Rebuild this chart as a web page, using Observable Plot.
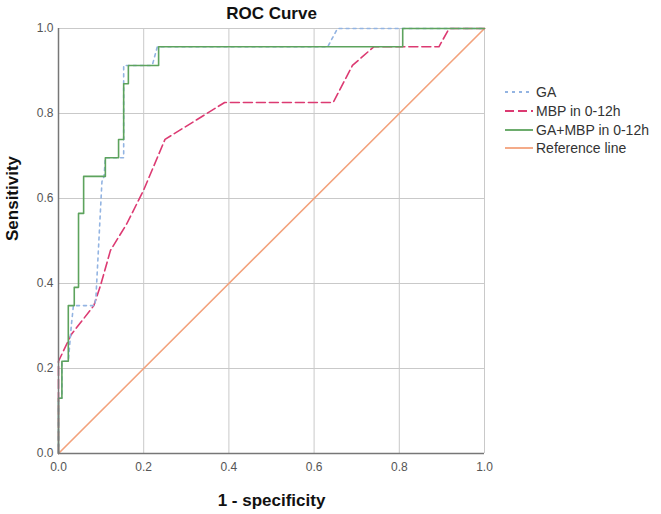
<!DOCTYPE html>
<html>
<head>
<meta charset="utf-8">
<script src="https://cdn.jsdelivr.net/npm/d3@7"></script>
<script src="https://cdn.jsdelivr.net/npm/@observablehq/plot@0.6"></script>
<style>
  html, body { margin: 0; padding: 0; background: #fff; }
  #chart { position: relative; width: 661px; height: 514px; }
</style>
</head>
<body>
<div id="chart"></div>
<script>
// ---- data ----
const ticks = [0, 0.2, 0.4, 0.6, 0.8, 1.0];

const gaX = [0, 0, 0.008, 0.008, 0.023, 0.030, 0.035, 0.085, 0.088, 0.102, 0.107, 0.110, 0.153, 0.153, 0.220, 0.232, 0.632, 0.655, 1];
const gaY = [0, 0.130, 0.130, 0.217, 0.217, 0.300, 0.348, 0.348, 0.370, 0.640, 0.652, 0.696, 0.696, 0.913, 0.913, 0.957, 0.957, 1, 1];

const mbpX = [0, 0, 0.030, 0.083, 0.100, 0.122, 0.160, 0.200, 0.250, 0.390, 0.645, 0.690, 0.740, 0.893, 0.917, 1];
const mbpY = [0, 0.217, 0.280, 0.348, 0.400, 0.478, 0.540, 0.620, 0.739, 0.826, 0.826, 0.913, 0.957, 0.957, 1, 1];

const comboX = [0, 0, 0.008, 0.008, 0.023, 0.023, 0.037, 0.037, 0.047, 0.047, 0.059, 0.059, 0.110, 0.110, 0.141, 0.141, 0.153, 0.153, 0.164, 0.164, 0.235, 0.235, 0.808, 0.808, 1];
const comboY = [0, 0.130, 0.130, 0.217, 0.217, 0.348, 0.348, 0.391, 0.391, 0.565, 0.565, 0.652, 0.652, 0.696, 0.696, 0.739, 0.739, 0.870, 0.870, 0.913, 0.913, 0.957, 0.957, 1, 1];

const refX = [0, 1];
const refY = [0, 1];

const seriesNames = ["GA", "MBP in 0-12h", "GA+MBP in 0-12h", "Reference line"];
const seriesColors = ["#93b4e2", "#dc3a72", "#5da35d", "#f3a27c"];
const seriesDash = ["3,4", "9,4", null, null];

// ---- build tables ----
const toRows = (xs, ys) => xs.map((x, i) => ({x, y: ys[i]}));
const ga = toRows(gaX, gaY);
const mbp = toRows(mbpX, mbpY);
const combo = toRows(comboX, comboY);
const ref = toRows(refX, refY);

const fmt = d3.format(".1f");
const font = "'Liberation Sans', Arial, sans-serif";

const plot = Plot.plot({
  width: 661,
  height: 514,
  marginLeft: 58,
  marginRight: 177,
  marginTop: 28,
  marginBottom: 61,
  style: { fontFamily: font, background: "#fff" },
  x: { domain: [0, 1] },
  y: { domain: [0, 1] },
  marks: [
    Plot.gridX(ticks.slice(1), { stroke: "#c9c9c9", strokeOpacity: 1, strokeWidth: 1 }),
    Plot.gridY(ticks.slice(1), { stroke: "#c9c9c9", strokeOpacity: 1, strokeWidth: 1 }),
    Plot.axisX(ticks, { tickSize: 0, tickPadding: 9, tickFormat: fmt, fontSize: 12, fill: "#555", label: null }),
    Plot.axisY(ticks, { tickSize: 0, tickPadding: 5, tickFormat: fmt, fontSize: 12, fill: "#555", label: null }),
    Plot.line(ref, { x: "x", y: "y", stroke: seriesColors[3], strokeWidth: 1.6 }),
    Plot.line(mbp, { x: "x", y: "y", stroke: seriesColors[1], strokeWidth: 1.6, strokeDasharray: seriesDash[1] }),
    Plot.line(ga, { x: "x", y: "y", stroke: seriesColors[0], strokeWidth: 1.6, strokeDasharray: seriesDash[0] }),
    Plot.line(combo, { x: "x", y: "y", stroke: seriesColors[2], strokeWidth: 1.6 }),
    Plot.ruleX([0], { stroke: "#777", strokeWidth: 1.5 }),
    Plot.ruleY([0], { stroke: "#777", strokeWidth: 1.5 }),
    Plot.text(["ROC Curve"], { frameAnchor: "top", dy: -15, fontSize: 17, fontWeight: "bold", fill: "#111", lineAnchor: "middle" }),
    Plot.text(["Sensitivity"], { frameAnchor: "left", dx: -46, rotate: -90, fontSize: 17, fontWeight: "bold", fill: "#111", lineAnchor: "middle" }),
    Plot.text(["1 - specificity"], { frameAnchor: "bottom", dy: 47, fontSize: 17, fontWeight: "bold", fill: "#111", lineAnchor: "middle" })
  ]
});

// ---- legend drawn into the same svg ----
const svg = d3.select(plot);
const lg = svg.append("g").attr("font-family", font).attr("font-size", 14).attr("text-anchor", "start");
const rowY = [92, 111, 130, 148];
seriesNames.forEach((name, i) => {
  const g = lg.append("g").attr("transform", `translate(505,${rowY[i]})`);
  g.append("line").attr("x1", 0).attr("x2", 28).attr("y1", 0).attr("y2", 0)
    .attr("stroke", seriesColors[i]).attr("stroke-width", 1.8)
    .attr("stroke-dasharray", seriesDash[i]);
  g.append("text").attr("x", 31).attr("y", 0).attr("dy", "0.35em")
    .attr("text-anchor", "start").attr("fill", "#333").text(name);
});

document.getElementById("chart").appendChild(plot);
</script>
</body>
</html>
